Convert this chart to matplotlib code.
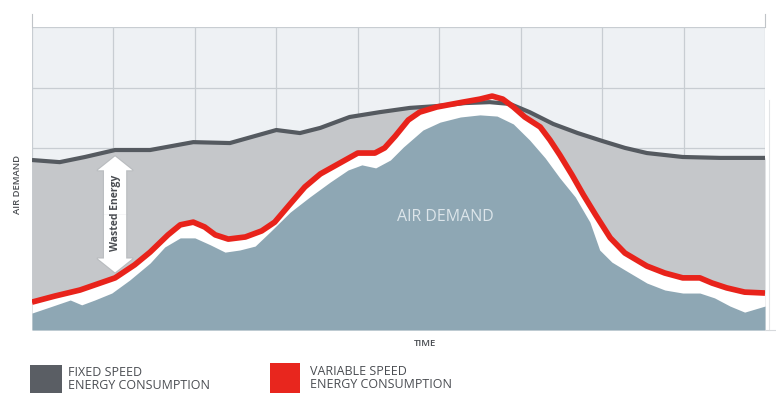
import matplotlib
matplotlib.use("Agg")
import matplotlib.pyplot as plt
from matplotlib.patches import FancyArrowPatch, Rectangle

# Time axis (arbitrary units, grid every 10) and demand/consumption levels (0-100)
fixed_x = [0, 3.4, 6.5, 10.2, 14.5, 19.8, 24.3, 30.0, 32.9, 35.4, 39.0, 42.7, 46.4,
           49.7, 53.2, 56.2, 58.7, 61.1, 64.0, 67.0, 70.0, 72.8, 75.5, 79.9, 84.5, 90.0]
fixed_y = [56.1, 55.4, 57.1, 59.4, 59.4, 62.0, 61.7, 66.0, 65.0, 66.7, 70.3, 71.9, 73.3,
           73.9, 74.9, 75.2, 74.6, 71.9, 68.0, 65.0, 62.4, 60.1, 58.4, 57.1, 56.8, 56.8]

variable_x = [0, 2.8, 5.9, 10.2, 12.6, 14.5, 16.7, 18.2, 19.8, 21.2, 22.5, 24.1, 26.2,
              28.2, 29.8, 31.7, 33.5, 35.4, 37.8, 40.0, 42.1, 43.3, 44.6, 46.2, 47.6,
              49.7, 52.9, 55.0, 56.5, 57.8, 59.1, 60.5, 62.4, 63.6, 64.8, 66.3, 67.7,
              69.2, 71.0, 72.8, 75.5, 77.7, 79.9, 82.0, 83.5, 85.3, 87.5, 90.0]
variable_y = [9.2, 11.2, 13.2, 17.2, 21.5, 25.7, 31.4, 34.7, 35.6, 34.0, 31.4, 30.0, 30.7,
              32.7, 35.6, 41.6, 47.2, 51.5, 55.1, 58.4, 58.4, 60.1, 64.0, 69.3, 71.9,
              73.6, 75.2, 76.2, 77.2, 76.2, 73.6, 70.3, 67.0, 62.7, 57.8, 51.2, 44.6,
              38.0, 30.4, 25.4, 21.1, 18.8, 17.2, 17.2, 15.5, 13.9, 12.5, 12.2]

demand_x = [0, 2.2, 4.7, 6.1, 7.7, 9.8, 12.0, 14.5, 16.3, 18.2, 20.0, 21.9, 23.7, 25.5,
            27.4, 29.2, 31.7, 34.1, 36.6, 38.8, 40.5, 42.2, 44.0, 45.6, 48.0, 50.1,
            52.6, 55.0, 57.1, 59.1, 61.1, 63.0, 64.8, 66.7, 68.5, 69.7, 71.2, 72.8,
            75.5, 77.7, 79.9, 82.0, 83.8, 85.7, 87.5, 90.0]
demand_y = [5.6, 7.6, 9.9, 8.3, 9.9, 12.2, 16.5, 22.1, 27.4, 30.4, 30.4, 28.1, 25.7, 26.4,
            27.7, 32.3, 38.9, 43.9, 48.8, 52.8, 54.5, 53.5, 56.1, 60.4, 66.0, 68.6,
            70.3, 71.0, 70.6, 68.0, 62.7, 56.8, 50.2, 43.9, 35.6, 26.4, 22.4, 19.8,
            15.5, 13.2, 12.2, 12.2, 10.6, 7.9, 5.9, 7.9]

legend_labels = ["FIXED SPEED\nENERGY CONSUMPTION", "VARIABLE SPEED\nENERGY CONSUMPTION"]

C_BG = "#eef1f4"
C_GRID = "#c8cdd2"
C_FIXED_FILL = "#c5c7ca"
C_FIXED_LINE = "#555a60"
C_DEMAND = "#8ea7b4"
C_RED = "#e8231b"
C_TEXT = "#4a4d52"

plt.rcParams["font.family"] = ["Open Sans", "DejaVu Sans"]

W, H = 776, 396
fig = plt.figure(figsize=(W / 100, H / 100), dpi=100)
fig.patch.set_facecolor("white")

ax = fig.add_axes([32 / W, (H - 330) / H, (765 - 32) / W, (330 - 27) / H])
ax.set_facecolor(C_BG)
ax.set_xlim(0, 90)
ax.set_ylim(0, 100)
ax.set_xticks(range(0, 91, 10))
ax.set_yticks(range(0, 101, 20))
ax.tick_params(length=0, labelbottom=False, labelleft=False)
ax.grid(True, color=C_GRID, linewidth=0.9)
ax.set_axisbelow(True)
for s in ax.spines.values():
    s.set_visible(False)

# Fixed-speed consumption area
ax.fill_between(fixed_x, fixed_y, 0, color=C_FIXED_FILL, zorder=2, linewidth=0)
# Variable-speed consumption area (white margin above demand)
ax.fill_between(variable_x, variable_y, 0, color="white", zorder=3, linewidth=0)
# Air demand
ax.fill_between(demand_x, demand_y, 0, color=C_DEMAND, zorder=4, linewidth=0)

ax.plot(fixed_x, fixed_y, color=C_FIXED_LINE, lw=3.0, zorder=5,
        solid_joinstyle="round", solid_capstyle="butt")
ax.plot(variable_x, variable_y, color=C_RED, lw=4.1, zorder=6,
        solid_joinstyle="round", solid_capstyle="butt")

ax.text(50.7, 37.3, "AIR DEMAND", color="#dce5ea", fontsize=11.5,
        ha="center", va="center", zorder=7)

# Wasted energy double arrow
ax_x, ax_top, ax_bot, ax_mid = 10.2, 57.3, 19.0, 38.0
style = "simple,head_length=10,head_width=25,tail_width=16"
for face, edge, lw, z in [("#b9bcbf", "#b9bcbf", 1.6, 7), ("white", "none", 0, 8)]:
    for end in (ax_top, ax_bot):
        ax.add_patch(FancyArrowPatch((ax_x, ax_mid), (ax_x, end), arrowstyle=style,
                                     mutation_scale=1, facecolor=face, edgecolor=edge,
                                     linewidth=lw, shrinkA=0, shrinkB=0, zorder=z))
ax.text(ax_x, ax_mid + 0.5, "Wasted Energy", rotation=90, color=C_TEXT, fontsize=7.5,
        fontweight="bold", ha="center", va="center", zorder=9)

# Axis labels
fig.text(17 / W, 1 - 184 / H, "AIR DEMAND", rotation=90, color=C_TEXT, fontsize=6.8,
         fontweight="semibold", ha="center", va="center")
fig.text(425 / W, 1 - 343 / H, "TIME", color=C_TEXT, fontsize=6.8,
         fontweight="semibold", ha="center", va="center")

# Small axis ends above the plot
fig.add_artist(plt.Line2D([32 / W, 32 / W], [1 - 27 / H, 1 - 14 / H], color="#c0c4c8", lw=0.8))
fig.add_artist(plt.Line2D([765 / W, 765 / W], [1 - 27 / H, 1 - 14 / H], color="#c0c4c8", lw=0.8))
fig.add_artist(plt.Line2D([769 / W, 769 / W], [1 - 330 / H, 1 - 100 / H], color="#e2e4e6", lw=0.8))
fig.add_artist(plt.Line2D([765 / W, 776 / W], [1 - 330 / H, 1 - 330 / H], color="#d6d9dc", lw=0.8))

# Legend
fig.add_artist(Rectangle((30 / W, 1 - 393 / H), 32 / W, 28 / H, transform=fig.transFigure,
                         facecolor="#5a5e64", edgecolor="none"))
fig.text(68 / W, 1 - 379 / H, legend_labels[0], color=C_TEXT, fontsize=9,
         ha="left", va="center", linespacing=1.0)
fig.add_artist(Rectangle((270 / W, 1 - 393 / H), 30 / W, 30 / H, transform=fig.transFigure,
                         facecolor="#e8261e", edgecolor="none"))
fig.text(310 / W, 1 - 378 / H, legend_labels[1], color=C_TEXT, fontsize=9,
         ha="left", va="center", linespacing=1.0)

fig.savefig("out.png", dpi=100, facecolor="white")
